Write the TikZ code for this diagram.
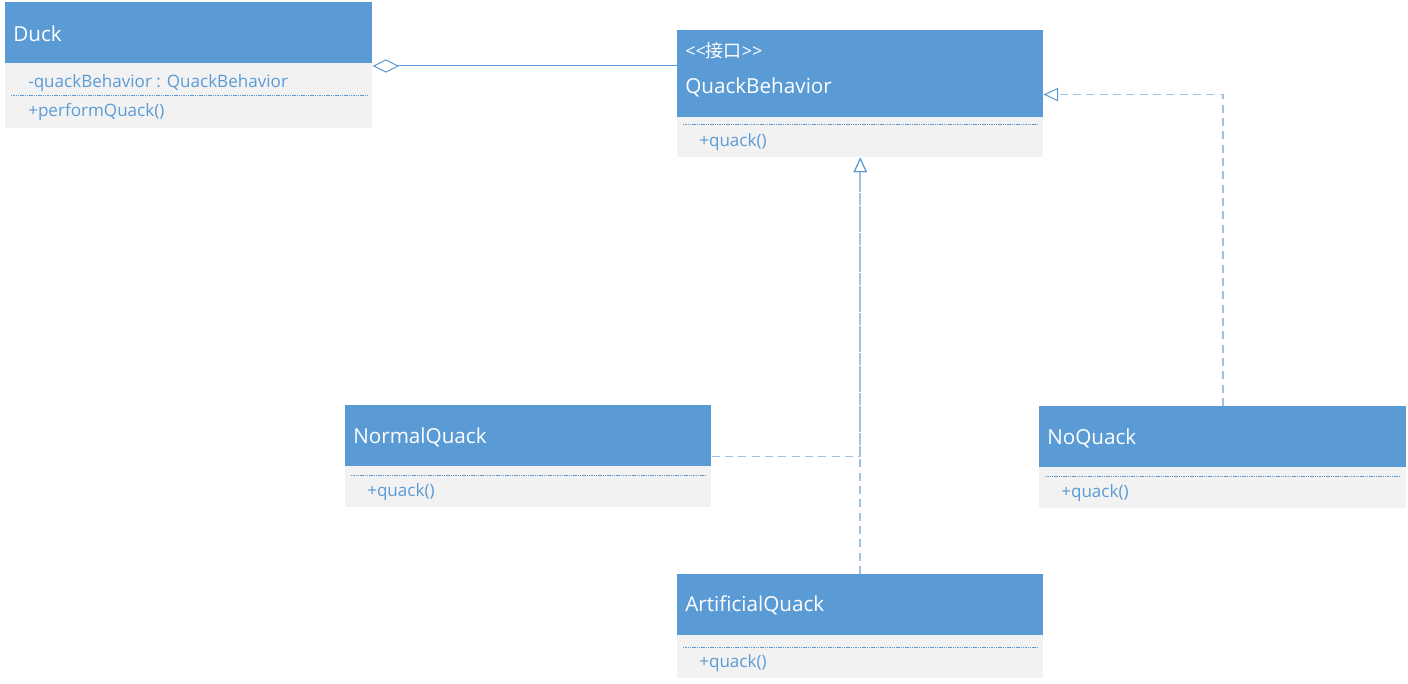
\documentclass[tikz,border=0pt]{standalone}
\usepackage{fontspec}
\setmainfont{Open Sans}
\newfontfamily\cjk{Noto Sans CJK SC}
\usetikzlibrary{arrows.meta}
\definecolor{hblue}{HTML}{5B9BD5}
\definecolor{bgray}{HTML}{F2F2F2}
\definecolor{dblue}{HTML}{9DC3E6}
\tikzset{
  hdr/.style={fill=hblue, draw=none, inner sep=0pt, anchor=north west},
  bdy/.style={fill=bgray, draw=none, inner sep=0pt, anchor=north west},
  htext/.style={text=white, font=\fontsize{15.5}{18}\selectfont, anchor=west, inner sep=0pt},
  btext/.style={text=hblue, font=\fontsize{12.8}{15}\selectfont, anchor=west, inner sep=0pt},
  sep/.style={draw=hblue, line width=0.75pt, dash pattern=on 1.1pt off 0.6pt},
  aggr/.style={draw=hblue, line width=0.75pt},
  real/.style={draw=dblue, line width=1.2pt, dash pattern=on 6pt off 4pt},
  tri/.style={-{Triangle[open, length=11pt, width=10pt, line width=0.75pt, color=hblue]}},
  dia/.style={{Diamond[open, length=20pt, width=10pt, line width=0.75pt]}-}
}
\begin{document}
\begin{tikzpicture}[x=0.75pt, y=-0.75pt]
\useasboundingbox[fill=white] (0,0) rectangle (1408,684);
% Duck
\node[hdr, minimum width=367*0.75pt, minimum height=61*0.75pt] (duckH) at (5,2) {};
\node[bdy, minimum width=367*0.75pt, minimum height=65*0.75pt] (duckB) at (5,63) {};
\node[htext] (duckT) at (13,34) {Duck};
\node[btext] (duckA) at (28,83) {-quackBehavior : QuackBehavior};
\draw[sep] (11,96) -- (367,96);
\node[btext] (duckM) at (28,112) {+performQuack()};
% QuackBehavior
\node[hdr, minimum width=366*0.75pt, minimum height=87*0.75pt] (qbH) at (677,30) {};
\node[bdy, minimum width=366*0.75pt, minimum height=40*0.75pt] (qbB) at (677,117) {};
\node[htext, font=\fontsize{13.5}{16}\selectfont] (qbS) at (685,51) {<{}<{\cjk 接口}>{}>};
\node[htext] (qbT) at (685,87) {QuackBehavior};
\draw[sep] (683,125) -- (1038,125);
\node[btext] (qbM) at (699,142) {+quack()};
% NormalQuack
\node[hdr, minimum width=366*0.75pt, minimum height=61*0.75pt] (nqH) at (345,405) {};
\node[bdy, minimum width=366*0.75pt, minimum height=41*0.75pt] (nqB) at (345,466) {};
\node[htext] (nqT) at (353,437) {NormalQuack};
\draw[sep] (351,475) -- (706,475);
\node[btext] (nqM) at (367,492) {+quack()};
% NoQuack
\node[hdr, minimum width=367*0.75pt, minimum height=61*0.75pt] (noH) at (1039,406) {};
\node[bdy, minimum width=367*0.75pt, minimum height=41*0.75pt] (noB) at (1039,467) {};
\node[htext] (noT) at (1047,438) {NoQuack};
\draw[sep] (1045,476) -- (1400,476);
\node[btext] (noM) at (1061,493) {+quack()};
% ArtificialQuack
\node[hdr, minimum width=366*0.75pt, minimum height=61*0.75pt] (aqH) at (677,574) {};
\node[bdy, minimum width=366*0.75pt, minimum height=43*0.75pt] (aqB) at (677,635) {};
\node[htext] (aqT) at (685,605) {ArtificialQuack};
\draw[sep] (683,647) -- (1038,647);
\node[btext] (aqM) at (699,663) {+quack()};
% connectors
\coordinate (aggS) at ([yshift=-2.25pt]duckB.north east);
\draw[aggr, dia] (aggS) -- (aggS -| qbH.west);
\coordinate (nqJ) at ([yshift=7.5pt]nqH.south east);
\draw[real, tri] (nqJ) -| (qbB.south);
\draw[real, tri] (aqH.north) -- (qbB.south);
\coordinate (noTip) at ([yshift=17.25pt]qbH.south east);
\draw[real, tri] (noH.north) |- (noTip);
\end{tikzpicture}
\end{document}
